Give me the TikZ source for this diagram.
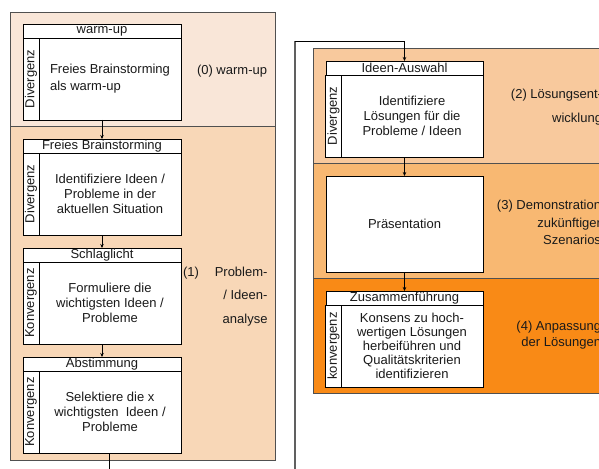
\documentclass[tikz,border=0pt]{standalone}
\usepackage{fontspec}
\setmainfont{Liberation Sans}
\usetikzlibrary{arrows.meta}
\definecolor{bandzero}{HTML}{F9E6D8}
\definecolor{bandone}{HTML}{F8D7B7}
\definecolor{bandtwo}{HTML}{F8C99D}
\definecolor{bandthree}{HTML}{F8B872}
\definecolor{bandfour}{HTML}{F98A16}
\definecolor{panelline}{HTML}{505050}
\definecolor{txt}{HTML}{1A1A1A}
\begin{document}
\begin{tikzpicture}[x=1pt,y=-1pt,
  every node/.style={font=\fontsize{13}{15}\selectfont, text=txt, inner sep=0pt, outer sep=0pt},
  boxline/.style={draw=black, fill=white, line width=0.9pt},
  hdr/.style={boxline, minimum height=14, minimum width=158},
  sidecol/.style={boxline, rotate=90, minimum height=16, minimum width=82},
  bodybox/.style={boxline, minimum height=82, minimum width=142, align=center},
  panel/.style={draw=panelline, line width=0.9pt},
  arr/.style={draw=black, line width=0.8pt, -{Stealth[length=4pt,width=3.5pt]}},
  plainline/.style={draw=black, line width=0.8pt},
  label/.style={align=right}
]
\useasboundingbox (0,0) rectangle (599,468);
\clip (0,0) rectangle (599,468);

% ---------- left panel ----------
\fill[bandzero] (10,12) rectangle (275,126);
\fill[bandone] (10,126) rectangle (275,460);
\draw[panel] (10,12) rectangle (275,460);
\draw[panel] (10,126) -- (275,126);

% ---------- right panel ----------
\fill[bandtwo] (313,48) rectangle (620,163);
\fill[bandthree] (313,163) rectangle (620,278);
\fill[bandfour] (313,278) rectangle (620,393);
\draw[panel] (313,48) rectangle (620,393);
\draw[panel] (313,163) -- (620,163);
\draw[panel] (313,278) -- (620,278);

% ---------- box A: warm-up ----------
\node[hdr] (Ah) at (102,31) {warm-up};
\node[sidecol] (As) at (31,79) {Divergenz};
\node[bodybox, align=left, font=\fontsize{13}{17}\selectfont] (Ab) at (110,79) {Freies Brainstorming\\als warm-up};

% ---------- box B: Freies Brainstorming ----------
\node[hdr] (Bh) at (102,146) {Freies Brainstorming};
\node[sidecol] (Bs) at (31,194) {Divergenz};
\node[bodybox] (Bb) at (110,194) {Identifiziere Ideen /\\Probleme in der\\aktuellen Situation};

% ---------- box C: Schlaglicht ----------
\node[hdr] (Ch) at (102,255) {Schlaglicht};
\node[sidecol] (Cs) at (31,303) {Konvergenz};
\node[bodybox] (Cb) at (110,303) {Formuliere die\\wichtigsten Ideen /\\Probleme};

% ---------- box D: Abstimmung ----------
\node[hdr] (Dh) at (102,364) {Abstimmung};
\node[sidecol] (Ds) at (31,412) {Konvergenz};
\node[bodybox] (Db) at (110,412) {Selektiere die x\\wichtigsten \ Ideen /\\Probleme};

% ---------- box E: Ideen-Auswahl ----------
\node[hdr, minimum width=157] (Eh) at (404.5,68) {Ideen-Auswahl};
\node[sidecol] (Es) at (333.5,116) {Divergenz};
\node[bodybox, minimum width=142] (Eb) at (412,116) {Identifiziere\\Lösungen für die\\Probleme / Ideen};

% ---------- box F: Präsentation ----------
\node[boxline, minimum width=157, minimum height=96] (F) at (404.5,224) {Präsentation};

% ---------- box G: Zusammenführung ----------
\node[hdr, minimum width=157] (Gh) at (404.5,298) {Zusammenführung};
\node[sidecol] (Gs) at (333.5,346) {konvergenz};
\node[bodybox, minimum width=142, font=\fontsize{13}{14}\selectfont] (Gb) at (412,346) {Konsens zu hoch-\\wertigen Lösungen\\herbeiführen und\\Qualitätskriterien\\identifizieren};

% ---------- phase labels ----------
\node[anchor=west] (L0) at (197,71) {(0) warm-up};
\node[anchor=west] (L1a) at (183,273) {(1)};
\node[label, anchor=east, font=\fontsize{13}{23.5}\selectfont] (L1b) at (267.5,296.5) {Problem-\\/ Ideen-\\analyse};
\node[label, anchor=east, font=\fontsize{13}{24}\selectfont] (L2) at (602,107) {(2) Lösungsent-\\wicklung};
\node[label, anchor=east, font=\fontsize{13}{17.5}\selectfont] (L3) at (601,222.5) {(3) Demonstration\\zukünftiger\\Szenarios};
\node[label, anchor=east, font=\fontsize{13}{16}\selectfont] (L4) at (601,335) {(4) Anpassung\\der Lösungen};

% ---------- connectors ----------
\draw[arr] (Ah.center |- Ab.south) -- (Bh.north);
\draw[arr] (Bh.center |- Bb.south) -- (Ch.north);
\draw[arr] (Ch.center |- Cb.south) -- (Dh.north);
\coordinate (exitL) at (109,470);
\draw[plainline] (Db.south -| exitL) -- (exitL);

\coordinate (loopB) at (295,470);
\coordinate (loopT) at (295,41.5);
\draw[draw=gray!75!black, line width=1.3pt] (loopB) -- (loopT);
\draw[arr] (loopT) -| (Eh.north);
\draw[arr] (Eh.center |- Eb.south) -- (F.north);
\draw[arr] (F.south) -- (Gh.north);
\end{tikzpicture}
\end{document}
